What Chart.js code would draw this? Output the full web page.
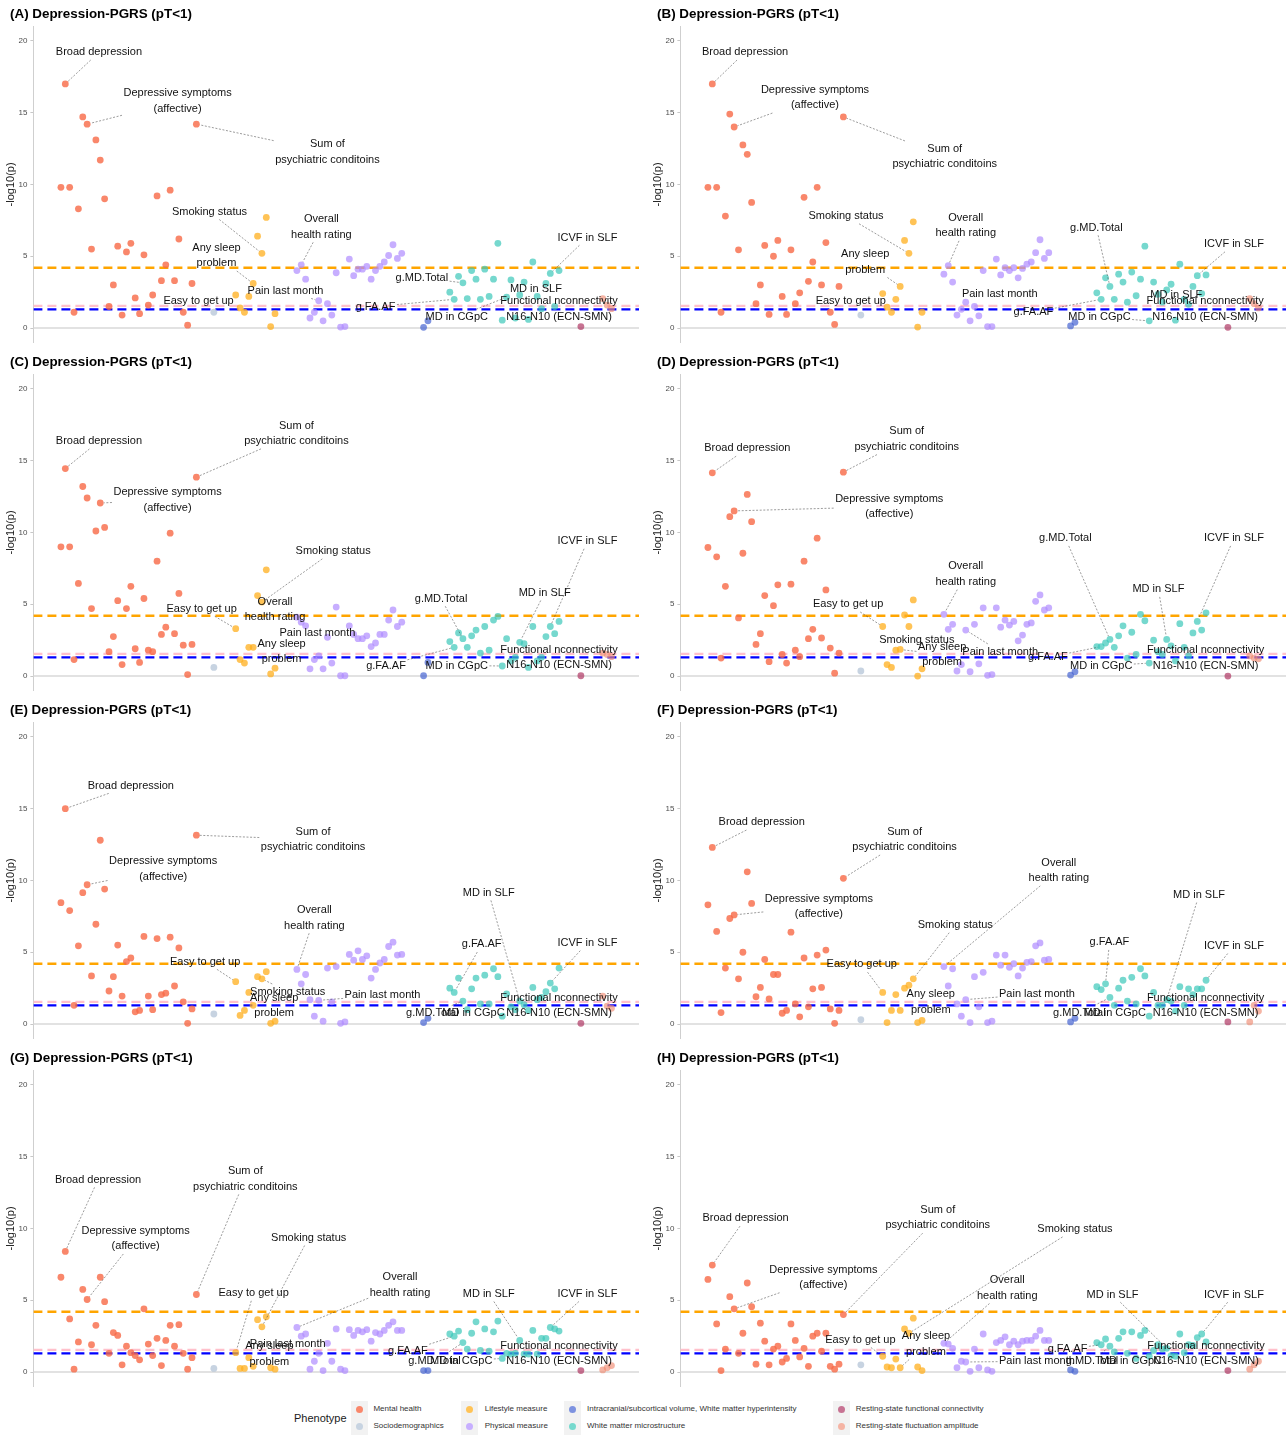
<!DOCTYPE html>
<html><head><meta charset="utf-8">
<script src="https://cdn.jsdelivr.net/npm/chart.js@4.4.1/dist/chart.umd.min.js"></script>
<style>
html,body{margin:0;padding:0;background:#fff;}
#wrap{position:relative;width:1286px;height:1436px;overflow:hidden;font-family:"Liberation Sans",Arial,sans-serif;}
#wrap canvas{position:absolute;}
.lg{position:absolute;white-space:nowrap;color:#333;font-size:8px;line-height:10px;}
.key{position:absolute;width:17px;height:17px;background:#f2f2f2;}
.key i{position:absolute;left:5px;top:5px;width:7px;height:7px;border-radius:50%;}
</style></head><body><div id="wrap"></div>
<script>
// ---------- data ----------
const phenotypes = ['Mental health','Sociodemographics','Lifestyle measure','Physical measure',
  'Intracranial/subcortical volume, White matter hyperintensity','White matter microstructure',
  'Resting-state functional connectivity','Resting-state fluctuation amplitude'];
const groupStart = [0,35,40,54,83,89,119,124];   // category index of first phenotype in each group
const panelLetters = ['A','B','C','D','E','F','G','H'];
const panelTitle = 'Depression-PGRS (pT<1)';
const thresholds = [4.2, 1.55, 1.3];
const yTicks = [0,5,10,15,20];

const valuesA = [
 [9.8,17.0,9.8,1.1,8.3,14.7,14.2,5.5,13.1,11.7,9.0,1.5,3.0,5.7,0.9,5.3,5.9,2.1,1.0,5.1,1.6,2.3,9.2,3.3,4.4,9.6,3.3,6.2,1.1,0.2,3.1,14.2],
 [1.1],
 [2.3,1.4,1.1,2.2,3.1,6.4,5.2,7.7,0.1,1.0],
 [4.0,4.4,3.4,0.7,1.1,1.9,0.5,1.7,0.9,3.85,0.07,0.1,4.8,3.65,4.1,4.1,4.3,3.4,4.0,4.3,4.6,5.05,5.8,4.85,5.2],
 [0.05,0.5],
 [2.5,2.0,3.6,3.15,2.05,4.0,3.4,2.0,4.1,2.2,3.4,5.9,0.55,2.15,3.35,0.7,2.3,3.2,0.6,4.6,2.2,1.35,3.1,3.8,1.5,4.0],
 [0.1],
 [2.05,1.6,1.35]];
const valuesB = [
 [9.8,17.0,9.8,1.1,7.8,14.9,14.0,5.45,12.75,12.1,8.75,1.7,3.0,5.75,0.95,5.0,6.1,2.2,0.95,5.45,1.7,2.45,9.1,3.25,4.6,9.8,3.0,5.95,1.1,0.25,2.9,14.7],
 [0.9],
 [2.4,1.45,1.1,2.0,2.9,6.1,5.2,7.4,0.07,1.1],
 [3.75,4.35,3.2,0.9,1.3,1.8,0.5,1.5,0.85,4.0,0.1,0.1,4.8,3.7,4.2,4.0,4.2,3.5,4.15,4.45,4.6,5.25,6.15,4.85,5.25],
 [0.15,0.4],
 [2.45,2.0,3.5,2.9,2.0,3.75,3.2,1.8,3.9,2.25,3.4,5.7,0.5,3.2,2.35,1.8,2.65,3.05,0.55,4.45,2.0,1.65,2.9,3.65,2.4,3.7],
 [0.05],
 [2.05,1.7,1.4]];
const valuesC = [
 [9.0,14.45,9.0,1.15,6.45,13.2,12.4,4.7,10.1,12.05,10.35,1.7,2.75,5.25,0.8,4.7,6.25,1.9,0.95,5.4,1.8,1.7,8.0,2.9,3.4,9.95,2.95,5.75,2.15,0.1,2.2,13.85],
 [0.6],
 [3.3,1.15,0.9,2.0,2.0,5.6,5.15,7.4,0.15,0.55],
 [4.1,3.75,3.5,0.5,1.15,1.4,0.5,2.7,0.9,4.8,0.02,0.02,3.5,2.9,2.6,2.6,2.8,2.05,2.3,2.9,2.9,3.9,4.6,3.45,3.75],
 [0.02,0.95],
 [2.4,2.0,3.0,2.6,2.0,2.8,3.2,1.6,3.45,1.8,3.9,4.15,0.7,2.6,1.05,1.3,2.35,2.25,0.6,3.45,1.05,1.3,2.75,3.45,2.95,3.8],
 [0.02],
 [1.6,1.5,1.35]];
const valuesD = [
 [8.95,14.15,8.3,1.25,6.25,11.1,11.5,4.05,8.55,12.65,10.75,2.2,2.95,5.6,1.0,4.9,6.35,1.5,0.9,6.4,1.8,1.35,8.0,2.6,3.25,9.6,2.65,6.0,1.95,0.2,1.6,14.2],
 [0.35],
 [3.45,0.8,0.6,1.8,1.85,4.25,3.45,5.3,0.0,0.5],
 [4.3,3.25,3.6,0.35,0.8,3.2,0.3,3.6,0.85,4.75,0.05,0.1,4.75,3.4,3.9,3.55,3.8,2.45,2.85,3.6,3.7,5.2,5.65,4.6,4.75],
 [0.07,0.3],
 [2.05,2.05,2.3,2.55,2.0,2.8,3.5,1.25,3.05,1.5,4.3,3.85,0.9,2.5,1.7,1.5,2.55,2.1,1.05,3.65,2.0,1.4,3.0,3.8,3.2,4.4],
 [0.0],
 [1.4,1.25,1.2]];
const valuesE = [
 [8.45,15.0,7.9,1.3,5.45,9.15,9.7,3.35,6.95,12.8,9.4,2.3,3.3,5.5,1.95,4.35,4.6,0.85,0.95,6.1,1.95,1.0,5.95,2.05,2.15,6.05,2.65,5.3,1.55,0.05,1.05,13.15],
 [0.7],
 [2.95,0.6,0.95,2.2,1.3,3.3,3.15,3.65,0.05,0.2],
 [3.8,2.8,3.45,1.7,0.55,1.65,0.2,3.9,1.55,4.0,0.05,0.15,4.85,4.45,5.1,4.5,4.75,3.2,3.8,4.25,4.5,5.4,5.7,4.8,4.85],
 [0.1,0.4],
 [2.5,2.2,3.2,1.6,1.0,2.45,3.2,1.4,3.4,1.4,3.85,3.3,0.55,2.1,1.2,1.0,1.6,1.35,0.95,2.55,1.7,1.85,2.25,2.85,2.45,3.9],
 [0.05],
 [1.95,1.25,1.1]];
const valuesF = [
 [8.3,12.3,6.45,0.8,3.9,7.35,7.6,3.15,5.0,10.6,8.4,1.9,2.55,4.5,1.75,3.45,3.45,0.75,0.95,6.4,1.4,0.5,4.6,1.2,2.45,4.8,2.55,5.15,1.05,0.05,0.95,10.15],
 [0.3],
 [2.2,0.1,0.95,2.05,0.95,2.5,2.7,3.15,0.1,0.25],
 [4.0,2.65,3.85,1.4,0.55,1.7,0.1,3.3,1.2,3.6,0.1,0.2,4.8,4.1,4.8,3.95,4.2,3.35,3.9,4.3,4.35,5.45,5.65,4.45,4.5],
 [0.15,0.4],
 [2.6,2.4,2.8,1.85,1.3,2.5,3.05,1.6,3.25,1.4,3.85,3.35,0.55,2.2,1.3,1.3,1.7,1.6,0.9,2.6,1.3,2.45,2.05,2.45,2.45,3.05],
 [0.15],
 [0.15,1.3,0.9]];
const valuesG = [
 [6.6,8.4,3.7,0.2,2.1,5.75,5.05,1.9,3.25,6.6,4.9,1.3,2.75,2.55,0.5,1.8,1.35,1.15,0.85,4.4,1.95,1.15,2.35,0.45,2.2,3.25,1.8,3.3,1.3,0.2,1.0,5.4],
 [0.25],
 [1.35,0.25,0.25,1.0,0.4,3.65,3.15,3.85,0.3,0.2],
 [3.1,2.5,2.65,0.2,0.75,1.3,0.1,2.0,0.75,3.0,0.2,0.1,2.95,2.55,2.9,2.8,2.95,2.15,2.75,2.65,2.9,3.25,3.5,2.9,2.9],
 [0.1,0.1],
 [2.65,2.5,2.85,2.05,1.6,2.7,3.5,1.5,3.0,1.45,2.8,3.55,0.95,1.3,1.25,1.3,2.2,1.25,1.25,2.9,1.25,2.35,2.35,3.1,3.0,2.85],
 [0.1],
 [0.15,0.3,0.45]];
const valuesH = [
 [6.45,7.45,3.35,0.1,1.6,5.25,4.4,1.3,2.7,6.2,4.55,0.55,3.4,2.15,0.5,1.6,1.8,0.7,0.95,3.35,2.2,1.05,1.65,0.4,2.5,2.7,1.45,2.7,0.4,0.2,0.55,4.0],
 [0.5],
 [1.1,0.35,0.3,0.9,0.3,3.0,2.7,3.75,0.35,0.1],
 [2.0,1.95,1.65,0.3,0.75,0.7,0.05,1.6,0.3,2.65,0.15,0.05,2.05,2.2,2.45,1.9,2.15,1.9,2.15,2.2,2.2,2.5,2.9,2.2,2.2],
 [0.15,0.05],
 [2.05,1.9,2.3,1.8,1.4,2.35,2.8,1.3,2.8,0.95,2.55,2.9,1.1,1.5,1.9,1.6,1.65,1.15,1.1,2.65,1.35,1.9,1.85,2.4,2.65,2.1],
 [0.1],
 [0.2,0.5,0.75]];

// annotation labels: [text, target category index, label x (category units), label y (-log10 p)]
const BD='Broad depression', DS='Depressive symptoms\n(affective)', SP='Sum of\npsychiatric conditoins',
  SS='Smoking status', OH='Overall\nhealth rating', AS='Any sleep\nproblem', PL='Pain last month',
  EG='Easy to get up', MT='g.MD.Total', FA='g.FA.AF', MC='MD in CGpC', MS='MD in SLF',
  FC='Functional nconnectivity\nN16-N10 (ECN-SMN)', IC='ICVF in SLF';
const labelsA = [[BD,1,8.7,19.2],[DS,6,26.7,15.8],[SP,31,61,12.25],[SS,46,34,8.1],[OH,55,59.6,7.05],[AS,44,35.6,5.05],
  [PL,59,51.4,2.6],[EG,41,31.5,1.9],[MT,92,82.6,3.5],[FA,90,72,1.5],[MC,102,90.6,0.77],[MS,109,108.7,2.7],[FC,119,114,1.33],[IC,112,120.5,6.3]];
const labelsB = [[BD,1,8.5,19.2],[DS,6,24.5,16.05],[SP,31,54.2,11.95],[SS,46,31.6,7.8],[OH,55,59,7.15],[AS,44,36,4.6],
  [EG,41,32.7,1.9],[PL,59,66.8,2.4],[MT,92,88.9,7.0],[FA,90,74.5,1.1],[MC,101,89.6,0.77],[MS,110,107.2,2.3],[FC,119,113.8,1.33],[IC,112,120.4,5.85]];
const labelsC = [[BD,1,8.7,16.35],[SP,31,53.9,16.9],[DS,9,24.4,12.25],[SS,46,62.3,8.7],[IC,112,120.5,9.4],[EG,40,32.2,4.7],
  [OH,55,49,4.65],[MS,105,110.7,5.8],[MT,92,87,5.4],[PL,61,58.7,3.0],[AS,44,50.5,1.7],[FC,119,114,1.3],[FA,90,74.4,0.73],[MC,101,90.6,0.73]];
const labelsD = [[BD,1,9.0,15.85],[SP,31,45.5,16.5],[DS,6,41.5,11.8],[MT,92,81.8,9.6],[IC,112,120.4,9.6],[OH,54,59,7.1],
  [MS,105,103.1,6.05],[EG,40,32.1,5.0],[SS,46,47.8,2.5],[AS,44,53.6,1.5],[PL,59,66.9,1.7],[FA,90,77.8,1.3],[FC,119,113.9,1.25],[MC,101,90,0.7]];
const labelsE = [[BD,1,16,16.6],[SP,31,57.7,12.85],[DS,6,23.4,10.8],[MS,105,97.9,9.15],[OH,54,58,7.4],[FA,90,96.3,5.55],
  [IC,112,120.5,5.65],[EG,40,33,4.35],[SS,46,51.9,2.25],[AS,44,48.8,1.3],[PL,59,73.6,2.0],[FC,119,114,1.3],[MT,92,85,0.75],[MC,101,94.4,0.75]];
const labelsF = [[BD,1,12.3,14.05],[SP,31,45,12.85],[DS,6,25.4,8.2],[OH,54,80.3,10.7],[MS,105,112.4,9.0],[SS,47,56.6,6.9],
  [FA,91,91.9,5.7],[IC,114,120.4,5.45],[EG,40,35.2,4.15],[AS,44,51,1.55],[PL,59,75.3,2.1],[FC,119,113.9,1.3],[MT,92,85,0.75],[MC,101,93.1,0.75]];
const labelsG = [[BD,1,8.5,13.4],[SP,31,42.2,13.45],[DS,6,17.1,9.3],[SS,46,56.7,9.35],[OH,54,77.6,6.05],[EG,40,44.1,5.5],
  [MS,105,97.9,5.45],[IC,112,120.5,5.45],[AS,44,47.7,1.25],[PL,59,51.9,1.95],[FA,90,79.4,1.45],[FC,119,114,1.3],[MT,92,85.5,0.75],[MC,101,91.6,0.75]];
const labelsH = [[BD,1,8.6,10.7],[SP,31,52.6,10.75],[SS,46,84,9.95],[DS,6,26.4,6.6],[OH,54,68.5,5.85],[MS,105,92.6,5.4],
  [IC,113,120.4,5.4],[EG,40,34.9,2.25],[AS,44,49.9,1.95],[FA,90,82.3,1.6],[FC,119,114,1.3],[PL,59,75.3,0.75],[MT,92,87.9,0.75],[MC,101,96.8,0.75]];

// ---------- style ----------
const pointColors = ['rgba(248,105,70,0.8)','rgba(180,196,215,0.75)','rgba(255,175,30,0.75)','rgba(175,140,255,0.7)',
  'rgba(70,100,210,0.7)','rgba(60,200,185,0.7)','rgba(175,55,100,0.7)','rgba(240,140,115,0.65)'];
const legendDot = ['#f9876b','#c7d3e1','#ffc356','#c7afff','#7d92e0','#76d9ce','#c77393','#f5b4a4'];
const lineColors = ['#FFA500','#FFC0CB','#0000FF'];
const FONT = '"Liberation Sans", Arial, Helvetica, sans-serif';
const XMIN = -6.3, XMAX = 132.3;

const allValues = [valuesA,valuesB,valuesC,valuesD,valuesE,valuesF,valuesG,valuesH];
const allLabels = [labelsA,labelsB,labelsC,labelsD,labelsE,labelsF,labelsG,labelsH];

const repelPlugin = {
  id: 'repelLabels',
  afterDatasetsDraw(chart, args, opts) {
    const {ctx} = chart, xs = chart.scales.x, ys = chart.scales.y;
    ctx.save();
    ctx.font = '11px ' + FONT;
    const lh = 15.5;
    opts.labels.forEach(([text, idx, lx, ly]) => {
      const lines = text.split('\n');
      const cx = xs.getPixelForValue(lx), cy = ys.getPixelForValue(ly);
      const w = Math.max(...lines.map(l => ctx.measureText(l).width));
      const hw = w/2 + 1.5, hh = lines.length*lh/2;
      const v = opts.lookup(idx);
      const px = xs.getPixelForValue(idx), py = ys.getPixelForValue(v);
      const dx = px - cx, dy = py - cy;
      const t = Math.min(dx === 0 ? Infinity : hw/Math.abs(dx), dy === 0 ? Infinity : hh/Math.abs(dy));
      if (t >= 1) return;
      const sx = cx + dx*t, sy = cy + dy*t;
      const len = Math.hypot(px - sx, py - sy);
      if (len < 7) return;
      const ex = px - (px - sx)/len*3.5, ey = py - (py - sy)/len*3.5;
      ctx.beginPath();
      ctx.setLineDash([2,1.6]);
      ctx.strokeStyle = 'rgba(60,60,60,0.85)';
      ctx.lineWidth = 0.6;
      ctx.moveTo(sx, sy); ctx.lineTo(ex, ey); ctx.stroke();
    });
    ctx.setLineDash([]);
    ctx.fillStyle = '#111';
    ctx.textAlign = 'center'; ctx.textBaseline = 'middle';
    opts.labels.forEach(([text, idx, lx, ly]) => {
      const lines = text.split('\n');
      const cx = xs.getPixelForValue(lx), cy = ys.getPixelForValue(ly);
      const h = lines.length*lh;
      lines.forEach((l, i) => ctx.fillText(l, cx, cy - h/2 + lh*(i + 0.5)));
    });
    ctx.restore();
  }
};

const wrap = document.getElementById('wrap');
allValues.forEach((vals, p) => {
  const col = p % 2, row = Math.floor(p / 2);
  const cv = document.createElement('canvas');
  cv.width = 643; cv.height = 352;
  cv.style.left = (col ? 647 : 0) + 'px';
  cv.style.top = (row * 348) + 'px';
  wrap.appendChild(cv);
  const lookup = idx => {
    for (let g = groupStart.length - 1; g >= 0; g--) if (idx >= groupStart[g]) return vals[g][idx - groupStart[g]];
  };
  const datasets = [];
  datasets.push({label:'zero', data:[{x:XMIN,y:0},{x:XMAX,y:0}], showLine:true, pointRadius:0,
    borderColor:'#d9d9d9', borderWidth:1.6, order:3});
  thresholds.forEach((t, i) => datasets.push({label:'thr'+i, data:[{x:XMIN,y:t},{x:XMAX,y:t}], showLine:true, pointRadius:0,
    borderColor:lineColors[i], borderWidth:2.3, borderDash:[9,5], order:2}));
  vals.forEach((g, gi) => datasets.push({
    label: phenotypes[gi],
    data: g.map((v, i) => ({x: groupStart[gi] + i, y: v})),
    pointRadius: 3.4, pointBorderWidth: 0, pointBackgroundColor: pointColors[gi], borderColor: 'rgba(0,0,0,0)', order: 0
  }));
  new Chart(cv, {
    type: 'scatter',
    data: {datasets},
    plugins: [repelPlugin],
    options: {
      responsive: false, animation: false, events: [],
      layout: {padding: {left: 10, right: 2.5, top: 0, bottom: 9.6}},
      plugins: {
        legend: {display: false}, tooltip: {enabled: false},
        title: {display: true, text: '(' + panelLetters[p] + ') ' + panelTitle, align: 'start', color: '#000',
          font: {family: FONT, size: 13.4, weight: 'bold', lineHeight: 1.2}, padding: {top: 6, bottom: 4.4}},
        repelLabels: {labels: allLabels[p], lookup}
      },
      scales: {
        x: {type: 'linear', min: XMIN, max: XMAX, display: false},
        y: {type: 'linear', min: -1, max: 21,
          afterBuildTicks: s => { s.ticks = yTicks.map(v => ({value: v})); },
          afterFit: s => { s.width = 23.4; },
          ticks: {color: '#4d4d4d', font: {family: FONT, size: 8}, padding: 3},
          grid: {drawOnChartArea: false, drawTicks: true, tickLength: 3, color: '#c8c8c8'},
          border: {display: true, color: '#cfcfcf', width: 1},
          title: {display: true, text: '-log10(p)', color: '#1a1a1a', font: {family: FONT, size: 11}, padding: {top: -5.5, bottom: 0}}
        }
      }
    }
  });
});

// ---------- shared legend ----------
const legendCols = [[359.6, 373.4],[469.6, 484.7],[572.4, 587],[841.6, 855.8]];
const legendRows = [1409, 1426];
const lt = document.createElement('div');
lt.className = 'lg'; lt.style.cssText = 'left:294px;top:1411px;font-size:11px;line-height:14px;color:#1a1a1a;';
lt.textContent = 'Phenotype'; wrap.appendChild(lt);
phenotypes.forEach((name, i) => {
  const c = Math.floor(i / 2), r = i % 2;
  const [kx, tx] = legendCols[c], ky = legendRows[r];
  const k = document.createElement('div'); k.className = 'key';
  k.style.left = (kx - 8.5) + 'px'; k.style.top = (ky - 8.5) + 'px';
  const d = document.createElement('i'); d.style.background = legendDot[i]; k.appendChild(d);
  wrap.appendChild(k);
  const t = document.createElement('div'); t.className = 'lg';
  t.style.left = tx + 'px'; t.style.top = (ky - 5) + 'px'; t.textContent = name;
  wrap.appendChild(t);
});
</script></body></html>
